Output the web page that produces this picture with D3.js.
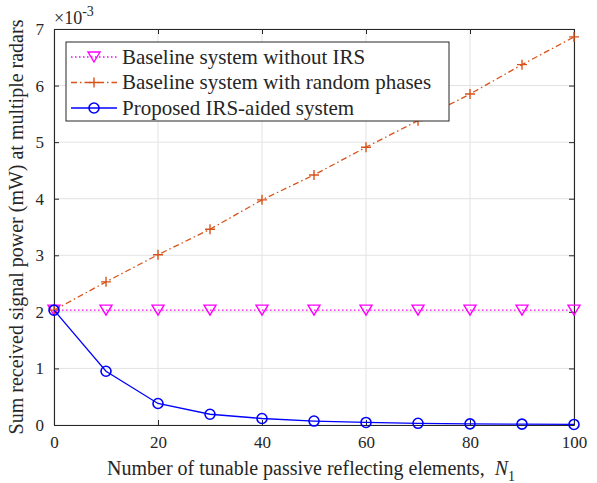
<!DOCTYPE html>
<html><head><meta charset="utf-8">
<script src="https://cdn.jsdelivr.net/npm/d3@7"></script>
<style>body{margin:0;background:#fff}svg{display:block}text{font-family:"Liberation Serif","Times New Roman",serif;fill:#262626}</style>
</head><body><svg id="c" width="597" height="483"></svg>
<script>
const N = [0,10,20,30,40,50,60,70,80,90,100];
const noIRS = [2.03,2.03,2.03,2.03,2.03,2.03,2.03,2.03,2.03,2.03,2.03];
const randomPh = [2.03,2.53,3.01,3.46,3.98,4.42,4.91,5.38,5.85,6.37,6.86];
const proposed = [2.03,0.95,0.38,0.19,0.115,0.07,0.045,0.03,0.02,0.015,0.01];
const xTicks = [0,20,40,60,80,100];
const yTicks = [0,1,2,3,4,5,6,7];
const legendLabels = ["Baseline system without IRS","Baseline system with random phases","Proposed IRS-aided system"];
const colors = ["#ff00ff","#d95319","#0000ff"];

const svg = d3.select("#c");
const L=54,R=574,T=29,B=425;
const x = d3.scaleLinear().domain([0,100]).range([L,R]);
const y = d3.scaleLinear().domain([0,7]).range([B,T]);

// grid
const g = svg.append("g");
g.selectAll(".gx").data(xTicks).enter().append("line").attr("x1",d=>x(d)).attr("x2",d=>x(d)).attr("y1",T).attr("y2",B).attr("stroke","#e3e3e3").attr("stroke-width",1);
g.selectAll(".gy").data(yTicks).enter().append("line").attr("y1",d=>y(d)).attr("y2",d=>y(d)).attr("x1",L).attr("x2",R).attr("stroke","#e3e3e3").attr("stroke-width",1);

// axes (MATLAB style: ticks inward)
const axCol="#262626";
const fmt=d3.format("d");
const xb = svg.append("g").attr("transform",`translate(0,${B})`).call(d3.axisBottom(x).tickValues(xTicks).tickSizeInner(-5).tickSizeOuter(0).tickPadding(11).tickFormat(fmt));
const xt = svg.append("g").attr("transform",`translate(0,${T})`).call(d3.axisTop(x).tickValues(xTicks).tickSizeInner(-5).tickSizeOuter(0).tickFormat(""));
const yl = svg.append("g").attr("transform",`translate(${L},0)`).call(d3.axisLeft(y).tickValues(yTicks).tickSizeInner(-5).tickSizeOuter(0).tickPadding(10).tickFormat(fmt));
const yr = svg.append("g").attr("transform",`translate(${R},0)`).call(d3.axisRight(y).tickValues(yTicks).tickSizeInner(-5).tickSizeOuter(0).tickFormat(""));
[xb,xt,yl,yr].forEach(a=>{a.attr("font-family",null);a.select(".domain").attr("stroke",axCol).attr("stroke-width",1.1);a.selectAll(".tick line").attr("stroke",axCol);a.selectAll("text").attr("font-size",17).attr("fill",axCol);});

// exponent label
const ex = svg.append("text").attr("x",54).attr("y",24).attr("font-size",18);
ex.append("tspan").text("×10");
ex.append("tspan").attr("dy",-8).attr("font-size",14).text("-3");

// axis labels
const xlab = svg.append("text").attr("x",311).attr("y",475).attr("text-anchor","middle").attr("font-size",20);
xlab.append("tspan").text("Number of tunable passive reflecting elements,\u00a0\u00a0");
xlab.append("tspan").attr("font-style","italic").text("N");
xlab.append("tspan").attr("dy",6).attr("font-size",14).text("1");
svg.append("text").attr("transform",`translate(23,${(T+B)/2}) rotate(-90)`).attr("text-anchor","middle").attr("font-size",20).text("Sum received signal power (mW) at multiple radars");

const line = d3.line().x((d,i)=>x(N[i])).y(d=>y(d));
const dashes = ["1.5,2.5","6,3,1.5,3",null];
const series=[noIRS,randomPh,proposed];

function marker(sel,k,cx,cy){
  if(k===0){ sel.append("path").attr("d",`M${cx-6},${cy-5}L${cx+6},${cy-5}L${cx},${cy+5}Z`).attr("fill","none").attr("stroke",colors[0]).attr("stroke-width",1.4);}
  else if(k===1){ sel.append("path").attr("d",`M${cx-5},${cy}L${cx+5},${cy}M${cx},${cy-5}L${cx},${cy+5}`).attr("stroke",colors[1]).attr("stroke-width",1.4);}
  else { sel.append("circle").attr("cx",cx).attr("cy",cy).attr("r",5).attr("fill","none").attr("stroke",colors[2]).attr("stroke-width",1.6);}
}
series.forEach((s,k)=>{
  svg.append("path").datum(s).attr("d",line).attr("fill","none").attr("stroke",colors[k]).attr("stroke-width",1.3).attr("stroke-dasharray",dashes[k]);
  const mg=svg.append("g");
  s.forEach((v,i)=>marker(mg,k,x(N[i]),y(v)));
});

// legend
const lg = svg.append("g");
lg.append("rect").attr("x",66).attr("y",42).attr("width",383).attr("height",79).attr("fill","#fff").attr("stroke",axCol).attr("stroke-width",1);
legendLabels.forEach((t,k)=>{
  const cy=57+k*25.5;
  lg.append("line").attr("x1",71).attr("x2",117).attr("y1",cy).attr("y2",cy).attr("stroke",colors[k]).attr("stroke-width",1.3).attr("stroke-dasharray",dashes[k]);
  marker(lg,k,94,cy);
  lg.append("text").attr("x",122).attr("y",cy+6.5).attr("font-size",21).attr("fill","#000").text(t);
});
</script></body></html>
